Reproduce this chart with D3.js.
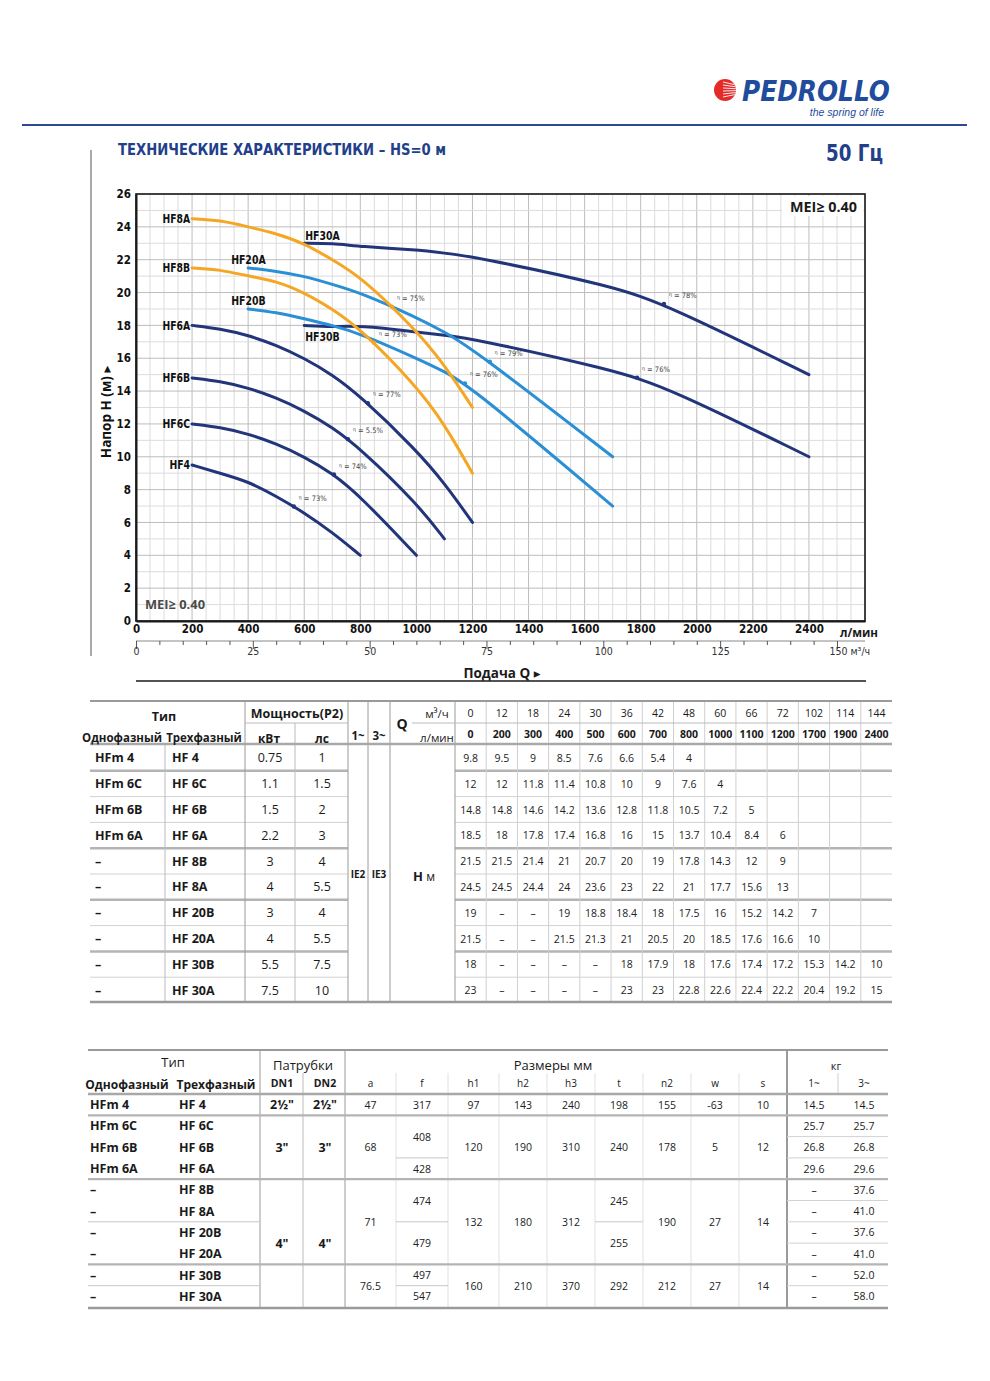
<!DOCTYPE html>
<html>
<head>
<meta charset="utf-8">
<script src="https://cdn.jsdelivr.net/npm/d3@7"></script>
<style>
  body { margin: 0; background: #fff; }
  svg { display: block; }
</style>
</head>
<body>
<div id="page"></div>
<script>
// ---------- data ----------
const qM3h = [0, 12, 18, 24, 30, 36, 42, 48, 60, 66, 72, 102, 114, 144];
const qLmin = [0, 200, 300, 400, 500, 600, 700, 800, 1000, 1100, 1200, 1700, 1900, 2400];

const singlePhase = ['HFm 4', 'HFm 6C', 'HFm 6B', 'HFm 6A', '–', '–', '–', '–', '–', '–'];
const threePhase = ['HF 4', 'HF 6C', 'HF 6B', 'HF 6A', 'HF 8B', 'HF 8A', 'HF 20B', 'HF 20A', 'HF 30B', 'HF 30A'];
const powerKw = ['0.75', '1.1', '1.5', '2.2', '3', '4', '3', '4', '5.5', '7.5'];
const powerHp = ['1', '1.5', '2', '3', '4', '5.5', '4', '5.5', '7.5', '10'];

const D = '–';
const headHF4  = [9.8, 9.5, 9, 8.5, 7.6, 6.6, 5.4, 4];
const headHF6C = [12, 12, 11.8, 11.4, 10.8, 10, 9, 7.6, 4];
const headHF6B = [14.8, 14.8, 14.6, 14.2, 13.6, 12.8, 11.8, 10.5, 7.2, 5];
const headHF6A = [18.5, 18, 17.8, 17.4, 16.8, 16, 15, 13.7, 10.4, 8.4, 6];
const headHF8B = [21.5, 21.5, 21.4, 21, 20.7, 20, 19, 17.8, 14.3, 12, 9];
const headHF8A = [24.5, 24.5, 24.4, 24, 23.6, 23, 22, 21, 17.7, 15.6, 13];
const headHF20B = [19, D, D, 19, 18.8, 18.4, 18, 17.5, 16, 15.2, 14.2, 7];
const headHF20A = [21.5, D, D, 21.5, 21.3, 21, 20.5, 20, 18.5, 17.6, 16.6, 10];
const headHF30B = [18, D, D, D, D, 18, 17.9, 18, 17.6, 17.4, 17.2, 15.3, 14.2, 10];
const headHF30A = [23, D, D, D, D, 23, 23, 22.8, 22.6, 22.4, 22.2, 20.4, 19.2, 15];
const headRows = [headHF4, headHF6C, headHF6B, headHF6A, headHF8B, headHF8A, headHF20B, headHF20A, headHF30B, headHF30A];

const curveNames = ['HF4', 'HF6C', 'HF6B', 'HF6A', 'HF8B', 'HF8A', 'HF20B', 'HF20A', 'HF30B', 'HF30A'];
const curveFamily = ['navy', 'navy', 'navy', 'navy', 'orange', 'orange', 'blue', 'blue', 'navy', 'navy'];
const labelSide = ['left', 'left', 'left', 'left', 'left', 'left', 'above', 'above', 'below', 'above'];
const effQ = [563, 706, 756, 827, 849, 913, 1173, 1262, 1787, 1883];
const effLabel = ['73%', '74%', '5.5%', '77%', '73%', '75%', '76%', '79%', '76%', '78%'];

const yTicks = d3.range(0, 27, 2);
const xTicks = d3.range(0, 2401, 200);
const m3Labels = [0, 25, 50, 75, 100, 125, 150];

// dimensions table (rows 0..9)
const dnGroups = [[0, 0, '2½"'], [1, 3, '3"'], [4, 9, '4"']];
const sizeCols = ['a', 'f', 'h1', 'h2', 'h3', 't', 'n2', 'w', 's'];
const sizeGroups = {
  a:  [[0, 0, '47'], [1, 3, '68'], [4, 7, '71'], [8, 9, '76.5']],
  f:  [[0, 0, '317'], [1, 2, '408'], [3, 3, '428'], [4, 5, '474'], [6, 7, '479'], [8, 8, '497'], [9, 9, '547']],
  h1: [[0, 0, '97'], [1, 3, '120'], [4, 7, '132'], [8, 9, '160']],
  h2: [[0, 0, '143'], [1, 3, '190'], [4, 7, '180'], [8, 9, '210']],
  h3: [[0, 0, '240'], [1, 3, '310'], [4, 7, '312'], [8, 9, '370']],
  t:  [[0, 0, '198'], [1, 3, '240'], [4, 5, '245'], [6, 7, '255'], [8, 9, '292']],
  n2: [[0, 0, '155'], [1, 3, '178'], [4, 7, '190'], [8, 9, '212']],
  w:  [[0, 0, '-63'], [1, 3, '5'], [4, 7, '27'], [8, 9, '27']],
  s:  [[0, 0, '10'], [1, 3, '12'], [4, 7, '14'], [8, 9, '14']]
};
const weight1 = ['14.5', '25.7', '26.8', '29.6', '–', '–', '–', '–', '–', '–'];
const weight3 = ['14.5', '25.7', '26.8', '29.6', '37.6', '41.0', '37.6', '41.0', '52.0', '58.0'];

// ---------- setup ----------
const W = 990, H = 1381;
const narrow = '"DejaVu Sans Condensed","Liberation Sans Narrow",sans-serif';
const sans = '"Open Sans","DejaVu Sans",sans-serif';
const colors = { navy: '#22357a', orange: '#f5a623', blue: '#2a8fd4' };
const brand = '#22408a';

const svg = d3.select('#page').append('svg').attr('width', W).attr('height', H);
svg.append('rect').attr('width', W).attr('height', H).attr('fill', '#fff');

function txt(g, x, y, s, o = {}) {
  const t = g.append('text')
    .attr('x', x).attr('y', y)
    .attr('text-anchor', o.anchor || 'middle')
    .attr('dominant-baseline', 'central')
    .attr('font-family', o.font || sans)
    .attr('font-size', o.size || 11)
    .attr('font-weight', o.bold ? 'bold' : 'normal')
    .attr('fill', o.fill || '#1a1a1a')
    .text(s);
  if (o.len) t.attr('textLength', o.len).attr('lengthAdjust', 'spacingAndGlyphs');
  return t;
}
function hline(g, x1, x2, y, c = '#c8c8c8', w = 1) {
  g.append('line').attr('x1', x1).attr('x2', x2).attr('y1', y).attr('y2', y).attr('stroke', c).attr('stroke-width', w);
}
function vline(g, x, y1, y2, c = '#c8c8c8', w = 1) {
  g.append('line').attr('x1', x).attr('x2', x).attr('y1', y1).attr('y2', y2).attr('stroke', c).attr('stroke-width', w);
}

// ---------- header ----------
const head = svg.append('g');
const logo = head.append('g').attr('transform', 'translate(725,90)');
logo.append('clipPath').attr('id', 'ball').append('circle').attr('r', 11);
logo.append('circle').attr('r', 11).attr('fill', '#e52a2a');
d3.range(-8, 9, 3).forEach(dy => {
  logo.append('line').attr('clip-path', 'url(#ball)')
    .attr('x1', -2).attr('x2', 12).attr('y1', dy).attr('y2', dy * 0.6)
    .attr('stroke', '#fff').attr('stroke-width', 0.9);
});
head.append('text').attr('x', 742).attr('y', 101)
  .attr('font-family', '"DejaVu Sans",sans-serif').attr('font-size', 28)
  .attr('font-weight', 'bold').attr('font-style', 'italic')
  .attr('textLength', 148).attr('lengthAdjust', 'spacingAndGlyphs')
  .attr('fill', '#1f4c9c').text('PEDROLLO');
head.append('text').attr('x', 884).attr('y', 116).attr('text-anchor', 'end')
  .attr('font-family', '"Liberation Sans",sans-serif').attr('font-size', 10.5)
  .attr('font-style', 'italic').attr('fill', '#1f4c9c').text('the spring of life');
hline(head, 22, 967, 125, '#2b4c95', 2.2);

head.append('text').attr('x', 118).attr('y', 155)
  .attr('font-family', narrow).attr('font-weight', 'bold').attr('font-size', 15.5)
  .attr('textLength', 328).attr('lengthAdjust', 'spacingAndGlyphs')
  .attr('fill', brand).text('ТЕХНИЧЕСКИЕ ХАРАКТЕРИСТИКИ – HS=0 м');
head.append('text').attr('x', 883).attr('y', 161).attr('text-anchor', 'end')
  .attr('font-family', narrow).attr('font-weight', 'bold').attr('font-size', 23)
  .attr('textLength', 57).attr('lengthAdjust', 'spacingAndGlyphs')
  .attr('fill', brand).text('50 Гц');
vline(head, 91, 150, 656, '#555', 1);

// ---------- chart ----------
const x = d3.scaleLinear().domain([0, 2600]).range([136, 865]);
const y = d3.scaleLinear().domain([0, 26]).range([621, 194]);
const xm3 = d3.scaleLinear().domain([0, 2600 * 0.06]).range([136, 865]);

const chart = svg.append('g');
const grid = chart.append('g');
d3.range(0, 2601, 50).forEach(q => vline(grid, x(q), y(26), y(0), q % 200 === 0 ? '#bdbdbd' : '#dcdcdc', 1));
d3.range(0, 27, 1).forEach(h => hline(grid, x(0), x(2600), y(h), h % 2 === 0 ? '#bdbdbd' : '#dcdcdc', 1));

// MEI boxes
chart.append('rect').attr('x', 782).attr('y', 196).attr('width', 81).attr('height', 20).attr('fill', '#fff');
txt(chart, 857, 206, 'MEI≥ 0.40', { anchor: 'end', bold: true, size: 14, len: 67 });
txt(chart, 145, 604, 'MEI≥ 0.40', { anchor: 'start', bold: true, size: 13, fill: '#4a4a4a', len: 60 });

chart.append('rect').attr('x', x(0)).attr('y', y(26)).attr('width', x(2600) - x(0)).attr('height', y(0) - y(26))
  .attr('fill', 'none').attr('stroke', '#1a1a1a').attr('stroke-width', 1.6);

// axes
const yAxis = chart.append('g').attr('transform', `translate(${x(0)},0)`)
  .call(d3.axisLeft(y).tickValues(yTicks).tickSize(0).tickPadding(5));
const xAxis = chart.append('g').attr('transform', `translate(0,${y(0)})`)
  .call(d3.axisBottom(x).tickValues(xTicks).tickFormat(d3.format('d')).tickSize(0).tickPadding(4));
[yAxis, xAxis].forEach(a => {
  a.select('.domain').attr('stroke', '#1a1a1a').attr('stroke-width', 2);
  a.selectAll('text').attr('font-family', narrow).attr('font-weight', 'bold').attr('font-size', 11.5).attr('fill', '#111');
});
txt(chart, 840, 632, 'л/мин', { anchor: 'start', bold: true, size: 12.5, len: 38 });

const m3Axis = chart.append('g').attr('transform', `translate(0,641)`)
  .call(d3.axisBottom(xm3).tickValues(d3.range(0, 151, 5)).tickSize(4).tickPadding(3)
    .tickFormat(v => m3Labels.includes(v) ? v : ''));
m3Axis.select('.domain').attr('stroke', '#888').attr('d', `M${x(0)},0H${x(2600)}`);
m3Axis.selectAll('.tick line').attr('stroke', '#555').attr('y2', v => m3Labels.includes(v) ? 8 : 4);
m3Axis.selectAll('text').attr('font-family', narrow).attr('font-size', 10.5).attr('fill', '#333');
m3Axis.selectAll('.tick').filter(v => v === 150).select('text').text('150 м³/ч').attr('text-anchor', 'start').attr('dx', -8);

txt(chart, 502, 673, 'Подача Q ▸', { bold: true, size: 13.5 });
hline(chart, 136, 866, 681, '#1a1a1a', 1.6);
chart.append('text').attr('transform', 'translate(106,412) rotate(-90)')
  .attr('text-anchor', 'middle').attr('dominant-baseline', 'central')
  .attr('font-family', sans).attr('font-weight', 'bold').attr('font-size', 13.5)
  .attr('fill', '#111').text('Напор H (м) ▸');

// curves
const series = curveNames.map((name, i) => ({
  name, family: curveFamily[i], side: labelSide[i], effQ: effQ[i], eff: effLabel[i],
  pts: qLmin.map((q, j) => [q, headRows[i][j]]).filter(([q, h]) => q >= 200 && typeof h === 'number')
}));
const line = d3.line().x(d => x(d[0])).y(d => y(d[1])).curve(d3.curveBasis);
const order = ['navy', 'blue', 'orange'];
const curves = chart.append('g');
order.forEach(f => {
  series.filter(s => s.family === f).forEach(s => {
    curves.append('path').attr('d', line(s.pts)).attr('fill', 'none')
      .attr('stroke', colors[f]).attr('stroke-width', 3).attr('stroke-linecap', 'round');
  });
});

// efficiency marks
const effG = chart.append('g');
series.forEach(s => {
  const interp = d3.scaleLinear().domain(s.pts.map(p => p[0])).range(s.pts.map(p => p[1]));
  const px = x(s.effQ), py = y(interp(s.effQ));
  effG.append('circle').attr('cx', px).attr('cy', py).attr('r', 2.2).attr('fill', colors[s.family]);
  const t = effG.append('text').attr('x', px + 5).attr('y', py - 6)
    .attr('font-family', narrow).attr('font-size', 7.5).attr('fill', '#444');
  t.append('tspan').attr('font-size', 5).attr('dy', -2).text('η');
  t.append('tspan').attr('dy', 2).text(' = ' + s.eff);
});

// curve labels
const labG = chart.append('g');
series.forEach(s => {
  const [q0, h0] = s.pts[0];
  const sx = x(q0), sy = y(h0);
  let lx, ly, anchor = 'start';
  if (s.side === 'left') { lx = sx - 2; ly = sy; anchor = 'end'; }
  else if (s.side === 'above') { lx = s.family === 'blue' ? sx - 17 : sx + 1; ly = sy - 8; }
  else { lx = sx + 1; ly = sy + 11; }
  txt(labG, lx, ly, s.name, { anchor, bold: true, size: 12.5, font: narrow, fill: '#111', len: s.name.length * 6.9 });
});

// ---------- table 1: performance ----------
const t1 = svg.append('g');
const qx = d3.scaleBand().domain(d3.range(qLmin.length)).range([455, 892]);
const r1 = d3.scaleBand().domain(d3.range(threePhase.length)).range([745, 1003]);
const t1Top = 701, t1Bot = 1002, t1Hdr = 744;
const groupAfter1 = [0, 3, 5, 7];

r1.domain().slice(0, -1).forEach(i => {
  const yy = r1(i) + r1.bandwidth();
  const grp = groupAfter1.includes(i);
  hline(t1, 90, 348, yy, grp ? '#b4b4b4' : '#d2d2d2', grp ? 2.5 : 1);
  hline(t1, 455, 892, yy, grp ? '#b4b4b4' : '#d2d2d2', grp ? 2.5 : 1);
});
qx.domain().slice(1).forEach(j => vline(t1, qx(j), t1Top, t1Bot, '#cfcfcf'));
vline(t1, 455, t1Top, t1Bot, '#9a9a9a');
[245, 348, 368, 390].forEach(xx => vline(t1, xx, t1Top, t1Bot, '#9a9a9a'));
vline(t1, 295, 723, t1Bot, '#bbb');
vline(t1, 165, t1Hdr, t1Bot, '#bbb');
hline(t1, 245, 348, 723, '#bbb');
hline(t1, 412, 892, 723, '#bbb');
hline(t1, 90, 892, t1Top, '#9a9a9a', 2);
hline(t1, 90, 892, t1Hdr, '#a8a8a8', 2.5);
hline(t1, 90, 892, t1Bot, '#9a9a9a', 2.5);

txt(t1, 164, 716, 'Тип', { bold: true, size: 12.5 });
txt(t1, 122, 737, 'Однофазный', { bold: true, size: 11.5 });
txt(t1, 204, 737, 'Трехфазный', { bold: true, size: 11.5 });
txt(t1, 297, 713, 'Мощность(P2)', { bold: true, size: 12.5 });
txt(t1, 269, 738, 'кВт', { bold: true, size: 12 });
txt(t1, 322, 738, 'лс', { bold: true, size: 12 });
txt(t1, 358, 735, '1~', { bold: true, size: 11.5 });
txt(t1, 379, 735, '3~', { bold: true, size: 11.5 });
txt(t1, 402, 723, 'Q', { bold: true, size: 14 });
txt(t1, 437, 713, 'м³/ч', { size: 11.5 });
txt(t1, 437, 737, 'л/мин', { size: 11.5 });
qM3h.forEach((v, j) => txt(t1, qx(j) + qx.bandwidth() / 2, 713, v, { size: 10.5 }));
qLmin.forEach((v, j) => txt(t1, qx(j) + qx.bandwidth() / 2, 734, v, { size: 10.5, bold: true }));

threePhase.forEach((name, i) => {
  const cy = r1(i) + r1.bandwidth() / 2;
  txt(t1, 95, cy, singlePhase[i], { anchor: 'start', bold: true, size: 12.5 });
  txt(t1, 172, cy, name, { anchor: 'start', bold: true, size: 12.5 });
  txt(t1, 270, cy, powerKw[i], { size: 12.5 });
  txt(t1, 322, cy, powerHp[i], { size: 12.5 });
  headRows[i].forEach((v, j) => txt(t1, qx(j) + qx.bandwidth() / 2, cy, v, { size: 10.5, fill: '#222' }));
});
txt(t1, 358, 874, 'IE2', { bold: true, size: 10 });
txt(t1, 379, 874, 'IE3', { bold: true, size: 10 });
const hm = t1.append('text').attr('x', 424).attr('y', 876).attr('text-anchor', 'middle')
  .attr('dominant-baseline', 'central').attr('font-family', sans).attr('fill', '#1a1a1a');
hm.append('tspan').attr('font-weight', 'bold').attr('font-size', 13).text('H ');
hm.append('tspan').attr('font-size', 12).text('м');

// ---------- table 2: dimensions ----------
const t2 = svg.append('g');
const r2 = d3.scaleBand().domain(d3.range(threePhase.length)).range([1094, 1307]);
const sizeEdges = [345, 396, 448, 499, 547, 595, 643, 691, 739, 787];
const t2Top = 1050, t2Bot = 1308, t2Hdr = 1094;
const rowTop = i => r2(i), rowBot = i => r2(i) + r2.bandwidth();
const spanMid = (a, b) => (rowTop(a) + rowBot(b)) / 2;

sizeEdges.slice(1, -1).forEach(xx => vline(t2, xx, 1073, t2Bot, '#e0e0e0'));
vline(t2, 838, 1073, t2Hdr, '#d0d0d0');
[260, 345].forEach(xx => vline(t2, xx, t2Top, t2Bot, '#9a9a9a'));
vline(t2, 303, 1073, t2Bot, '#bbb');
vline(t2, 787, t2Top, t2Bot, '#9a9a9a', 2);

[0, 3, 7].forEach(i => hline(t2, 88, 888, rowBot(i), '#b4b4b4', 2.2));
[5, 8].forEach(i => hline(t2, 88, 260, rowBot(i), '#c8c8c8', 1));
d3.range(9).filter(i => ![0, 3, 7].includes(i)).forEach(i => hline(t2, 787, 888, rowBot(i), '#d2d2d2', 1));
[['f', 396, 448], ['t', 595, 643]].forEach(([k, x1, x2]) => {
  sizeGroups[k].slice(0, -1).forEach(([a, b]) => {
    if (![0, 3, 7].includes(b)) hline(t2, x1, x2, rowBot(b), '#c8c8c8', 1);
  });
});
hline(t2, 88, 888, t2Top, '#9a9a9a', 2);
hline(t2, 88, 888, t2Hdr, '#a8a8a8', 2.5);
hline(t2, 88, 888, t2Bot, '#9a9a9a', 2.5);

txt(t2, 173, 1062, 'Тип', { size: 13 });
txt(t2, 303, 1065, 'Патрубки', { size: 13 });
txt(t2, 553, 1065, 'Размеры мм', { size: 13 });
txt(t2, 836, 1065, 'кг', { size: 11 });
txt(t2, 127, 1084, 'Однофазный', { bold: true, size: 12 });
txt(t2, 216, 1084, 'Трехфазный', { bold: true, size: 12 });
txt(t2, 282, 1083, 'DN1', { bold: true, size: 10.5 });
txt(t2, 325, 1083, 'DN2', { bold: true, size: 10.5 });
sizeCols.forEach((k, c) => txt(t2, (sizeEdges[c] + sizeEdges[c + 1]) / 2, 1083, k, { size: 10 }));
txt(t2, 814, 1083, '1~', { size: 10 });
txt(t2, 864, 1083, '3~', { size: 10 });

threePhase.forEach((name, i) => {
  const cy = r2(i) + r2.bandwidth() / 2;
  txt(t2, 90, cy, singlePhase[i], { anchor: 'start', bold: true, size: 12.5 });
  txt(t2, 179, cy, name, { anchor: 'start', bold: true, size: 12.5 });
  txt(t2, 814, cy, weight1[i], { size: 10.5 });
  txt(t2, 864, cy, weight3[i], { size: 10.5 });
});
dnGroups.forEach(([a, b, v]) => {
  txt(t2, 282, spanMid(a, b), v, { bold: true, size: 12.5 });
  txt(t2, 325, spanMid(a, b), v, { bold: true, size: 12.5 });
});
sizeCols.forEach((k, c) => {
  const cx = (sizeEdges[c] + sizeEdges[c + 1]) / 2;
  sizeGroups[k].forEach(([a, b, v]) => txt(t2, cx, spanMid(a, b), v, { size: 10.5, fill: '#222' }));
});
</script>
</body>
</html>
